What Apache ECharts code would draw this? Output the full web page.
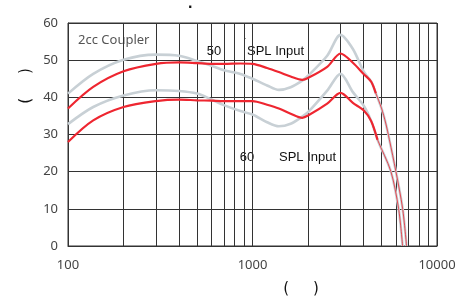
<!DOCTYPE html>
<html>
<head>
<meta charset="utf-8">
<script src="https://cdn.jsdelivr.net/npm/echarts@6/dist/echarts.min.js"></script>
<style>html,body{margin:0;padding:0;background:#fff}#c{width:466px;height:296px}</style>
</head>
<body>
<div id="c"></div>
<script>
// Shared frequencies (Hz) for the body of the curves
const freqs = [100,137,200,300,400,500,600,700,860,1000,1200,1390,1610,1860,2000,2540,3000,3500,4000];
const redUpper  = [37,42.8,47,49,49.4,49.2,49,49,49.1,49,47.9,46.8,45.6,44.7,45.2,48.2,51.8,49.3,46.3];
const greyUpper = [41,46.3,50.1,51.5,51.2,49.8,48.5,47.3,46.3,45,43.2,42,42.7,44.5,45.8,51.2,56.8,53,47];
const redLower  = [28,33.8,37.4,39,39.4,39.2,39.1,39,39,39,38,37,35.6,34.5,35.1,38.3,41.2,38.5,36.5];
const greyLower = [32.8,37.4,40.5,41.9,41.7,41,39.4,37.9,36.3,35.4,33.3,32.2,32.9,34.8,36,41.8,46.3,41.4,37.8];
// High-frequency roll-off tails (red and grey overlap here)
const upperTailFreqs = [4400,4660,5000,5270,5520,5985,6510,6840];
const upperTail      = [44.2,41.1,37.1,33.1,28.6,20.1,10.1,0];
const lowerTailFreqs = [4400,4760,5620,6190,6510];
const lowerTail      = [33.6,28.6,20.1,10.1,0];
// Axes
const yTicks = [0,10,20,30,40,50,60];
const gridFreqs = [200,300,400,500,600,700,800,900,2000,3000,4000,5000,6000,7000,8000,9000];
const annotations = ['2cc Coupler','50','SPL Input','60','SPL Input'];

function pairs(xs, ys){ return xs.map((x,i)=>[x, ys[i]]); }
function curve(bodyVals, tailF, tailV){ return pairs(freqs, bodyVals).concat(pairs(tailF, tailV)); }

const RED = '#ee2630', GREY = '#c8d0d5';
const chart = echarts.init(document.getElementById('c'), null, {renderer:'canvas'});
const lineBase = {type:'line', showSymbol:false, smooth:0.3, silent:true, z:3};
chart.setOption({
  animation:false,
  grid:{left:68, right:29, top:23, bottom:50, show:true, borderColor:'#333', borderWidth:1},
  xAxis:{type:'log', logBase:10, min:100, max:10000,
    axisLine:{show:true, lineStyle:{color:'#333'}}, axisTick:{show:false},
    axisLabel:{fontFamily:'Noto Sans', fontSize:13, color:'#444', margin:13, formatter:v=>String(Math.round(v))},
    splitLine:{show:true, lineStyle:{color:'#333', width:1}}},
  yAxis:{type:'value', min:yTicks[0], max:yTicks[yTicks.length-1], interval:10,
    axisLine:{show:true, lineStyle:{color:'#333'}}, axisTick:{show:false},
    axisLabel:{fontFamily:'Noto Sans', fontSize:13, color:'#444', margin:10},
    splitLine:{show:true, lineStyle:{color:'#333', width:1}}},
  series:[
    Object.assign({}, lineBase, {z:1, data:[], markLine:{silent:true, z:1, symbol:['none','none'], label:{show:false},
      lineStyle:{color:'#333', type:'solid', width:1}, data: gridFreqs.map(f=>({xAxis:f}))}}),
    Object.assign({}, lineBase, {data:curve(greyUpper, upperTailFreqs, upperTail), lineStyle:{color:GREY, width:2.6}}),
    Object.assign({}, lineBase, {data:curve(greyLower, lowerTailFreqs, lowerTail), lineStyle:{color:GREY, width:2.6}}),
    Object.assign({}, lineBase, {z:4, data:curve(redUpper, upperTailFreqs.slice(0,2), upperTail.slice(0,2)), lineStyle:{color:RED, width:2.2}}),
    Object.assign({}, lineBase, {z:4, data:curve(redLower, lowerTailFreqs.slice(0,2), lowerTail.slice(0,2)), lineStyle:{color:RED, width:2.2}}),
    Object.assign({}, lineBase, {z:5, data:pairs(upperTailFreqs, upperTail), lineStyle:{color:RED, width:0.8}}),
    Object.assign({}, lineBase, {z:5, data:pairs(lowerTailFreqs, lowerTail), lineStyle:{color:RED, width:0.8}})
  ],
  graphic:[
    {type:'text', left:188, top:-4, style:{text:'.', font:'bold 16px "Liberation Sans"', fill:'#111'}},
    {type:'text', x:78, y:40, style:{text:annotations[0], font:'13px "Noto Sans"', fill:'#555', verticalAlign:'middle'}},
    {type:'text', x:214, y:51, style:{text:annotations[1], font:'13px "Liberation Sans"', fill:'#111', align:'center', verticalAlign:'middle'}},
    {type:'text', x:245, y:41, style:{text:'.', font:'9px "Liberation Sans"', fill:'#111', align:'center', verticalAlign:'bottom'}},
    {type:'text', x:247, y:51, style:{text:annotations[2], font:'13px "Liberation Sans"', fill:'#111', verticalAlign:'middle'}},
    {type:'text', x:247, y:157, style:{text:annotations[3], font:'13px "Liberation Sans"', fill:'#111', align:'center', verticalAlign:'middle'}},
    {type:'text', x:279, y:157, style:{text:annotations[4], font:'13px "Liberation Sans"', fill:'#111', verticalAlign:'middle'}},
    {type:'text', x:301, y:289, style:{text:'(     )', font:'15px "DejaVu Sans"', fill:'#111', align:'center', verticalAlign:'middle'}},
    {type:'text', x:26, y:86, rotation:Math.PI/2, style:{text:'(     )', font:'15px "DejaVu Sans"', fill:'#111', align:'center', verticalAlign:'middle'}}
  ]
});
</script>
</body>
</html>
